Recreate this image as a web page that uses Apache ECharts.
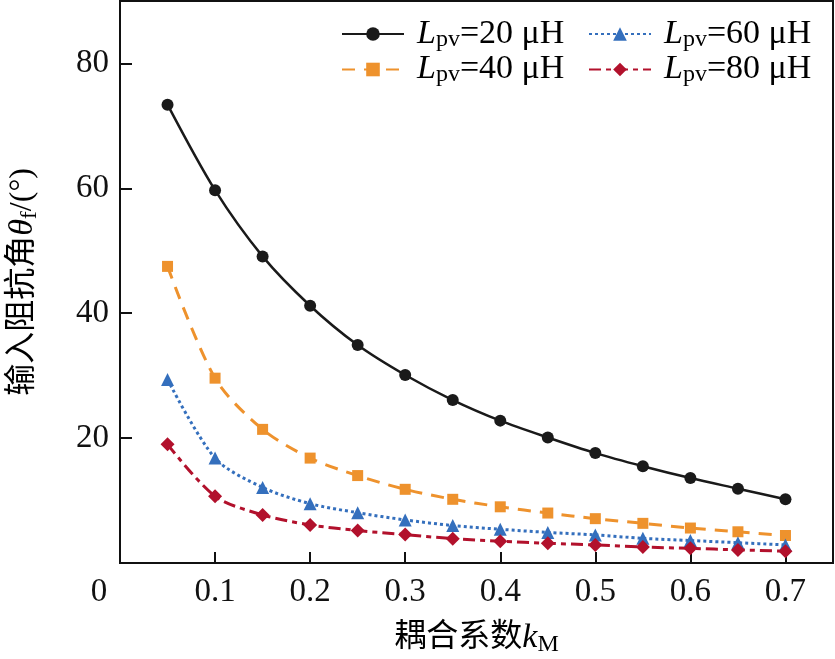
<!DOCTYPE html>
<html>
<head>
<meta charset="utf-8">
<script src="https://cdn.jsdelivr.net/npm/echarts@6/dist/echarts.min.js"></script>
<style>
  html, body { margin: 0; padding: 0; background: #fff; }
  #chart { width: 835px; height: 659px; }
</style>
</head>
<body>
<div id="chart"></div>
<script>
// coupling coefficient kM
const kM = [0.05, 0.1, 0.15, 0.2, 0.25, 0.3, 0.35, 0.4, 0.45, 0.5, 0.55, 0.6, 0.65, 0.7]

// input impedance angle (deg) for each Lpv
const theta20 = [73.4, 59.7, 49.1, 41.2, 34.9, 30.1, 26.1, 22.8, 20.1, 17.6, 15.5, 13.6, 11.9, 10.2]
const theta40 = [47.5, 29.6, 21.4, 16.8, 14.0, 11.8, 10.2, 9.0, 8.0, 7.1, 6.35, 5.6, 5.0, 4.4]
const theta60 = [29.4, 16.8, 12.1, 9.5, 8.05, 6.9, 6.0, 5.4, 4.9, 4.5, 3.95, 3.6, 3.25, 2.9]
const theta80 = [19.0, 10.7, 7.7, 6.1, 5.2, 4.55, 3.9, 3.5, 3.15, 2.9, 2.55, 2.35, 2.1, 1.9]

const seriesNames = ['20', '40', '60', '80']

const serif = 'Liberation Serif, Noto Sans CJK SC'

function pairs(ys) {
    return kM.map((x, i) => [x, ys[i]])
}

const legendRich = {
    i: { fontFamily: serif, fontSize: 34, fontStyle: 'italic', lineHeight: 35, color: '#000' },
    s: { fontFamily: serif, fontSize: 24, lineHeight: 14, verticalAlign: 'bottom', color: '#000' },
    n: { fontFamily: serif, fontSize: 34, lineHeight: 35, color: '#000' }
}

function legendLabel(name) {
    return '{i|L}{s|pv}{n|=' + name + ' μH}'
}

const legendBase = {
    orient: 'vertical',
    top: 12,
    itemWidth: 62,
    itemHeight: 17,
    itemGap: 1,
    formatter: legendLabel,
    textStyle: { rich: legendRich, padding: [0, 0, 0, 8] },
    selectedMode: false
}

const nameRich = {
    c: { fontFamily: serif, fontSize: 32, lineHeight: 38, color: '#000' },
    i: { fontFamily: serif, fontSize: 34, fontStyle: 'italic', lineHeight: 38, color: '#000' },
    s: { fontFamily: serif, fontSize: 24, lineHeight: 14, verticalAlign: 'bottom', color: '#000' }
}

const chart = echarts.init(document.getElementById('chart'))

const option = {
    animation: false,
    backgroundColor: '#fff',
    legend: [
        Object.assign({}, legendBase, { left: 336, data: ['20', '40'] }),
        Object.assign({}, legendBase, { left: 583, data: ['60', '80'] })
    ],
    grid: {
        left: 120,
        right: 2,
        top: 1,
        bottom: 96,
        outerBoundsMode: 'none',
        show: true,
        borderColor: '#111',
        borderWidth: 2
    },
    xAxis: {
        type: 'value',
        min: 0,
        max: 0.75,
        interval: 0.1,
        name: '{c|耦合系数}{i|k}{s|M}',
        nameLocation: 'middle',
        nameGap: 56,
        nameTextStyle: { rich: nameRich },
        axisLine: { lineStyle: { color: '#111', width: 2 } },
        axisTick: { inside: true, length: 11, lineStyle: { color: '#111', width: 2 } },
        splitLine: { show: false },
        axisLabel: {
            margin: 13,
            fontFamily: serif,
            fontSize: 33,
            color: '#111',
            formatter: function (v) {
                if (v > 0.72) return ''
                if (v === 0) return '{o|0}'
                return v.toFixed(1)
            },
            rich: {
                o: { fontFamily: serif, fontSize: 33, color: '#111', padding: [0, 42, 0, 0] }
            }
        }
    },
    yAxis: {
        type: 'value',
        min: 0,
        max: 90,
        interval: 20,
        name: '{c|输入阻抗角}{i|θ}{s|f}{c|/(°)}',
        nameLocation: 'middle',
        nameGap: 78,
        nameRotate: 90,
        nameTextStyle: { rich: nameRich },
        axisLine: { show: true, lineStyle: { color: '#111', width: 2 } },
        axisTick: { inside: true, length: 12, lineStyle: { color: '#111', width: 2 } },
        splitLine: { show: false },
        axisLabel: {
            margin: 11,
            fontFamily: serif,
            fontSize: 33,
            color: '#111',
            formatter: function (v) {
                return (v === 0 || v > 85) ? '' : String(v)
            }
        }
    },
    series: [
        {
            name: seriesNames[0],
            type: 'line',
            data: pairs(theta20),
            smooth: 0.3,
            symbol: 'circle',
            symbolSize: 12,
            color: '#1a1a1a',
            lineStyle: { width: 2.5, color: '#1a1a1a', type: 'solid' },
            itemStyle: { color: '#1a1a1a' }
        },
        {
            name: seriesNames[1],
            type: 'line',
            data: pairs(theta40),
            smooth: 0.3,
            symbol: 'rect',
            symbolSize: 11,
            color: '#ee922d',
            lineStyle: { width: 3, color: '#ee922d', type: [13, 9] },
            itemStyle: { color: '#ee922d' }
        },
        {
            name: seriesNames[2],
            type: 'line',
            data: pairs(theta60),
            smooth: 0.3,
            symbol: 'triangle',
            symbolSize: 13,
            color: '#346fbd',
            lineStyle: { width: 3, color: '#346fbd', type: [3, 3] },
            itemStyle: { color: '#346fbd' }
        },
        {
            name: seriesNames[3],
            type: 'line',
            data: pairs(theta80),
            smooth: 0.3,
            symbol: 'diamond',
            symbolSize: 14,
            color: '#b2112c',
            lineStyle: { width: 3, color: '#b2112c', type: [12, 5, 5, 5] },
            itemStyle: { color: '#b2112c' }
        }
    ]
}

chart.setOption(option)
</script>
</body>
</html>
